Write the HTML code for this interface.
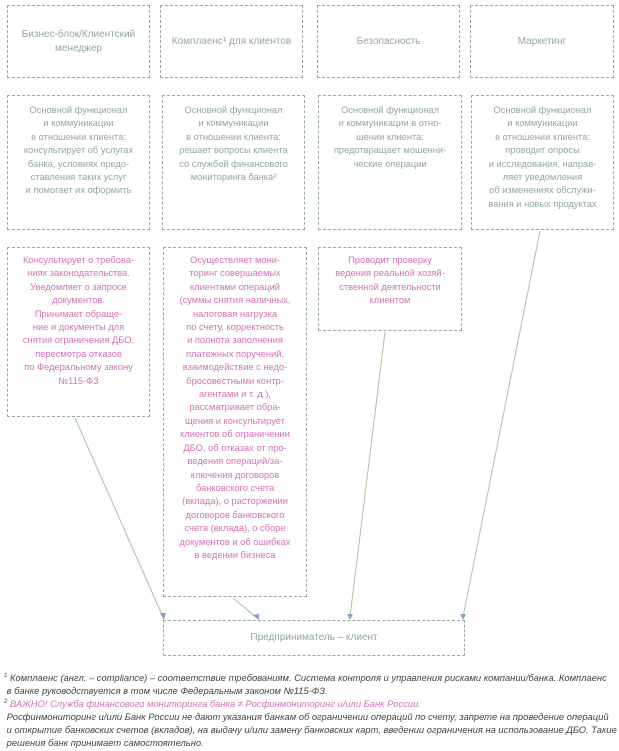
<!DOCTYPE html>
<html><head><meta charset="utf-8"><style>
body{margin:0;width:619px;height:751px;background:#fff;position:relative;overflow:hidden;font-family:"Liberation Sans",sans-serif}
.b{position:absolute;box-sizing:border-box;border:1.5px dashed #97aa9f;text-align:center;font-size:9.3px;line-height:13.4px;color:#8fa99a;padding:0 4px}
.h{display:flex;align-items:center;justify-content:center;font-size:10px;line-height:14px}
.p{color:#d271b6;}
.fn{position:absolute;left:4px;width:615px;font-size:9.4px;line-height:13px;font-style:italic;color:#444;white-space:nowrap}
</style></head><body>
<div class="b h" style="left:7px;top:5px;width:143px;height:73px">Бизнес-блок/Клиентский<br>менеджер</div>
<div class="b h" style="left:160px;top:5px;width:143px;height:73px">Комплаенс¹ для клиентов</div>
<div class="b h" style="left:317px;top:5px;width:143px;height:73px">Безопасность</div>
<div class="b h" style="left:470px;top:5px;width:144px;height:73px">Маркетинг</div>

<div class="b" style="left:7px;top:95px;width:143px;height:135px;padding-top:8px">Основной функционал<br>и коммуникации<br>в отношении клиента:<br>консультирует об услугах<br>банка, условиях предо-<br>ставления таких услуг<br>и помогает их оформить</div>
<div class="b" style="left:162px;top:95px;width:143px;height:135px;padding-top:8px">Основной функционал<br>и коммуникации<br>в отношении клиента:<br>решает вопросы клиента<br>со службой финансового<br>мониторинга банка²</div>
<div class="b" style="left:318px;top:95px;width:144px;height:135px;padding-top:8px">Основной функционал<br>и коммуникации в отно-<br>шении клиента:<br>предотвращает мошенни-<br>ческие операции</div>
<div class="b" style="left:471px;top:95px;width:143px;height:135px;padding-top:8px">Основной функционал<br>и коммуникации<br>в отношении клиента:<br>проводит опросы<br>и исследования, направ-<br>ляет уведомления<br>об изменениях обслужи-<br>вания и новых продуктах</div>

<div class="b p" style="left:7px;top:247px;width:143px;height:170px;padding-top:6px">Консультирует о требова-<br>ниях законодательства.<br>Уведомляет о запросе<br>документов.<br>Принимает обраще-<br>ние и документы для<br>снятия ограничения ДБО,<br>пересмотра отказов<br>по Федеральному закону<br>№115-ФЗ</div>
<div class="b p" style="left:163px;top:247px;width:144px;height:350px;padding-top:6px">Осуществляет мони-<br>торинг совершаемых<br>клиентами операций<br>(суммы снятия наличных,<br>налоговая нагрузка<br>по счету, корректность<br>и полнота заполнения<br>платежных поручений,<br>взаимодействие с недо-<br>бросовестными контр-<br>агентами и т. д.),<br>рассматривает обра-<br>щения и консультирует<br>клиентов об ограничении<br>ДБО, об отказах от про-<br>ведения операций/за-<br>ключения договоров<br>банковского счета<br>(вклада), о расторжении<br>договоров банковского<br>счета (вклада), о сборе<br>документов и об ошибках<br>в ведении бизнеса</div>
<div class="b p" style="left:318px;top:247px;width:144px;height:84px;padding-top:6px">Проводит проверку<br>ведения реальной хозяй-<br>ственной деятельности<br>клиентом</div>

<div class="b h" style="left:163px;top:620px;width:302px;height:36px">Предприниматель – клиент</div>

<svg style="position:absolute;left:0;top:0" width="619" height="751">
<g stroke="#a3c99a" stroke-width="1" fill="none">
<line x1="75" y1="418" x2="163" y2="617"/>
<line x1="233" y1="598" x2="256" y2="617"/>
<line x1="385" y1="332" x2="350" y2="617"/>
<line x1="540" y1="231" x2="463" y2="617"/>
</g>
<g fill="#8fa0c8">
<polygon points="160,613 166,613 164,620"/>
<polygon points="252,615 259,614 259,620"/>
<polygon points="347,614 353,614 350,620"/>
<polygon points="460,614 466,614 463,620"/>
</g>
</svg>

<div class="fn" style="top:670px"><sup style="font-size:6px">1</sup> Комплаенс (англ. – compliance) – соответствие требованиям. Система контроля и управления рисками компании/банка. Комплаенс<br>&nbsp;в банке руководствуется в том числе Федеральным законом №115-ФЗ.</div>
<div class="fn" style="top:696px"><sup style="font-size:6px">2</sup> <span style="color:#d271b6">ВАЖНО! Служба финансового мониторинга банка ≠ Росфинмониторинг и/или Банк России.</span><br>&nbsp;Росфинмониторинг и/или Банк России не дают указания банкам об ограничении операций по счету, запрете на проведение операций<br>&nbsp;и открытие банковских счетов (вкладов), на выдачу и/или замену банковских карт, введении ограничения на использование ДБО. Такие<br>&nbsp;решения банк принимает самостоятельно.</div>
</body></html>
